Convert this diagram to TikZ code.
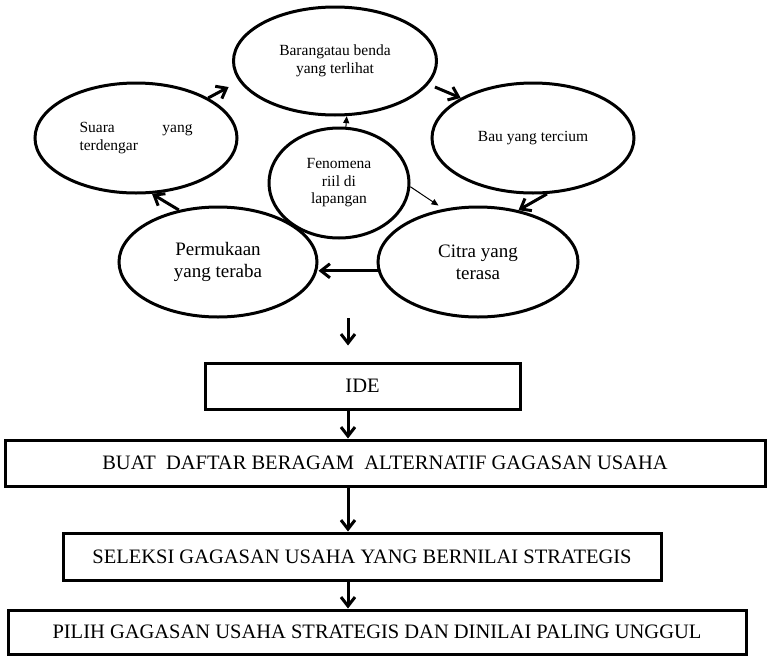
\documentclass[tikz,border=0pt]{standalone}
\usepackage{fontspec}
\setmainfont{Liberation Serif}
\usetikzlibrary{arrows.meta, shapes.geometric}

\begin{document}
\begin{tikzpicture}[x=1pt, y=-1pt,
        oval/.style={ellipse, draw, line width=3pt, inner sep=0pt, align=center},
        smalltext/.style={font=\fontsize{15.5}{17.5}\selectfont},
        bigtext/.style={font=\fontsize{19}{22}\selectfont},
        box/.style={rectangle, draw, line width=3pt, minimum height=46pt, font=\fontsize{20.5}{24}\selectfont},
        flow/.style={line width=3pt, -{Straight Barb[length=9pt, width=14pt]}},
        pointer/.style={line width=1pt, -{Triangle[length=7pt, width=6pt]}}]
        \useasboundingbox (0,0) rectangle (768,656);

        \node[oval, smalltext, minimum width=203pt, minimum height=108pt] (barang) at (335,61) {Barangatau benda\\yang terlihat};
        \node[oval, smalltext, minimum width=202pt, minimum height=110pt, text width=113pt, align=left] (suara) at (136,138) {Suara\hfill yang\\terdengar};
        \node[oval, smalltext, minimum width=140pt, minimum height=110pt] (fenomena) at (339,183) {Fenomena\\riil di\\lapangan};
        \node[oval, smalltext, minimum width=202pt, minimum height=110pt] (bau) at (533,138) {Bau yang tercium};
        \node[oval, bigtext, minimum width=198pt, minimum height=110pt] (permukaan) at (218,262) {Permukaan\\yang teraba};
        \node[oval, bigtext, minimum width=200pt, minimum height=110pt] (citra) at (478,262) {Citra yang\\terasa};

        \draw[flow, shorten >=12pt] (suara.29) -- (barang.192);
        \draw[flow, shorten <=7pt] (barang.-14) -- (bau.151);
        \draw[flow] (bau.-76) -- (citra.52);
        \draw[flow] (citra.185) -- (citra.185 -| permukaan.east);
        \draw[flow] (permukaan.127) -- (suara.-74);
        \draw[pointer] (fenomena.83) -- (barang.282);
        \draw[pointer, shorten >=6pt] (fenomena.-3) -- (citra.123);

        \node[box, minimum width=315pt] (ide) at (362.5,386) {IDE};
        \node[box, minimum width=760pt] (buat) at (385,463) {BUAT\enspace DAFTAR BERAGAM\enspace ALTERNATIF GAGASAN USAHA};
        \node[box, minimum width=598pt, minimum height=47pt] (seleksi) at (362,556.5) {SELEKSI GAGASAN USAHA YANG BERNILAI STRATEGIS};
        \node[box, minimum width=738pt, minimum height=44pt] (pilih) at (377,632) {PILIH GAGASAN USAHA STRATEGIS DAN DINILAI PALING UNGGUL};

        \coordinate (spine) at (348,318);
        \draw[flow, shorten >=16pt] (spine) -- (spine |- ide.north);
        \draw[flow] (spine |- ide.south) -- (spine |- buat.north);
        \draw[flow] (spine |- buat.south) -- (spine |- seleksi.north);
        \draw[flow] (spine |- seleksi.south) -- (spine |- pilih.north);
    \end{tikzpicture}
\end{document}
